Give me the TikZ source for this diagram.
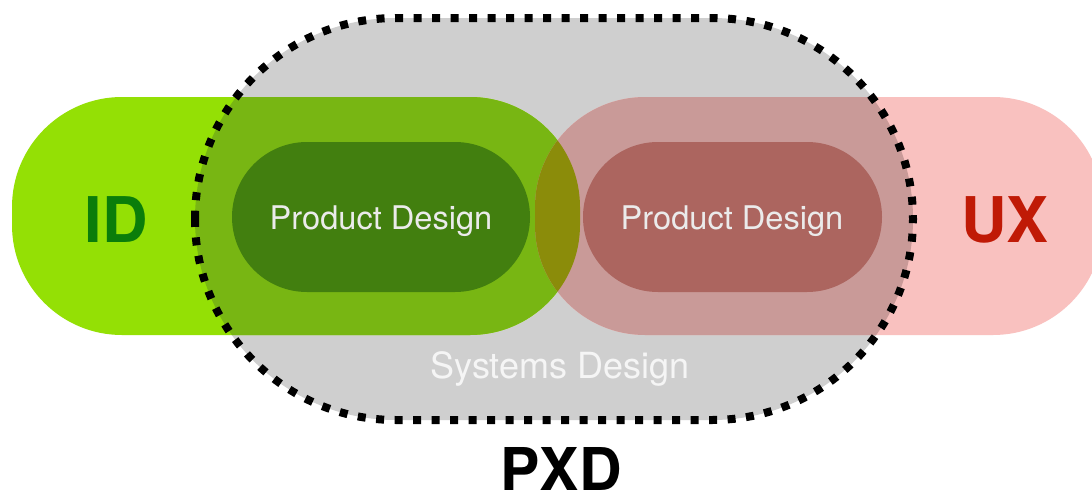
\documentclass[tikz,border=0pt]{standalone}
\usepackage{fontspec}
\setmainfont{TeX Gyre Heros}
\begin{document}
\begin{tikzpicture}[x=1pt,y=-1pt]
\definecolor{sysgray}{RGB}{207,207,207}
\definecolor{greenout}{RGB}{148,224,5}
\definecolor{greenin}{RGB}{120,182,19}
\definecolor{pinkout}{RGB}{249,193,191}
\definecolor{pinkin}{RGB}{201,154,152}
\definecolor{lens}{RGB}{139,140,10}
\definecolor{darkgreen}{RGB}{66,127,15}
\definecolor{darkred}{RGB}{172,101,95}
\definecolor{idtext}{RGB}{10,125,10}
\definecolor{uxtext}{RGB}{192,26,6}
\tikzset{
  bigpill/.style={rounded corners=110pt},
  syspill/.style={rounded corners=200.9pt},
  smallpill/.style={rounded corners=75pt},
  dotline/.style={draw=black,line width=8pt,dash pattern=on 8pt off 10.5pt},
  lbl/.style={anchor=base,inner sep=0pt,text=white!92!black,font=\fontsize{32.6}{38}\selectfont},
  big/.style={anchor=base,inner sep=0pt,font=\fontsize{63}{70}\selectfont\bfseries}
}
\clip (0,0) rectangle (1092,501);
\fill[white] (0,0) rectangle (1092,501);
% systems design area
\fill[sysgray,syspill] (195,18) rectangle (913,420);
% ID and UX pills
\fill[greenout,bigpill] (12,97) rectangle (580,335);
\fill[pinkout,bigpill] (535,97) rectangle (1103,335);
\begin{scope}
  \clip[syspill] (195,18) rectangle (913,420);
  \fill[greenin,bigpill] (12,97) rectangle (580,335);
  \fill[pinkin,bigpill] (535,97) rectangle (1103,335);
  \begin{scope}
    \clip[bigpill] (12,97) rectangle (580,335);
    \fill[lens,bigpill] (535,97) rectangle (1103,335);
  \end{scope}
\end{scope}
% product design pills
\fill[darkgreen,smallpill] (232,142) rectangle (530,292);
\fill[darkred,smallpill] (583,142) rectangle (882,292);
% dotted border
\draw[dotline,syspill] (195,18) rectangle (913,420);
% texts
\node[big,text=idtext] (id) at (116,242) {ID};
\node[big,text=uxtext] (ux) at (1005,242) {UX};
\node[lbl] (pd1) at (381,229) {Product Design};
\node[lbl] (pd2) at (732,229) {Product Design};
\node[lbl,text=white!96!black,font=\fontsize{36}{40}\selectfont] (sd) at (560,378) {Systems Design};
\node[big,text=black,font=\fontsize{59}{66}\selectfont\bfseries] (pxd) at (561,490) {PXD};
\end{tikzpicture}
\end{document}
